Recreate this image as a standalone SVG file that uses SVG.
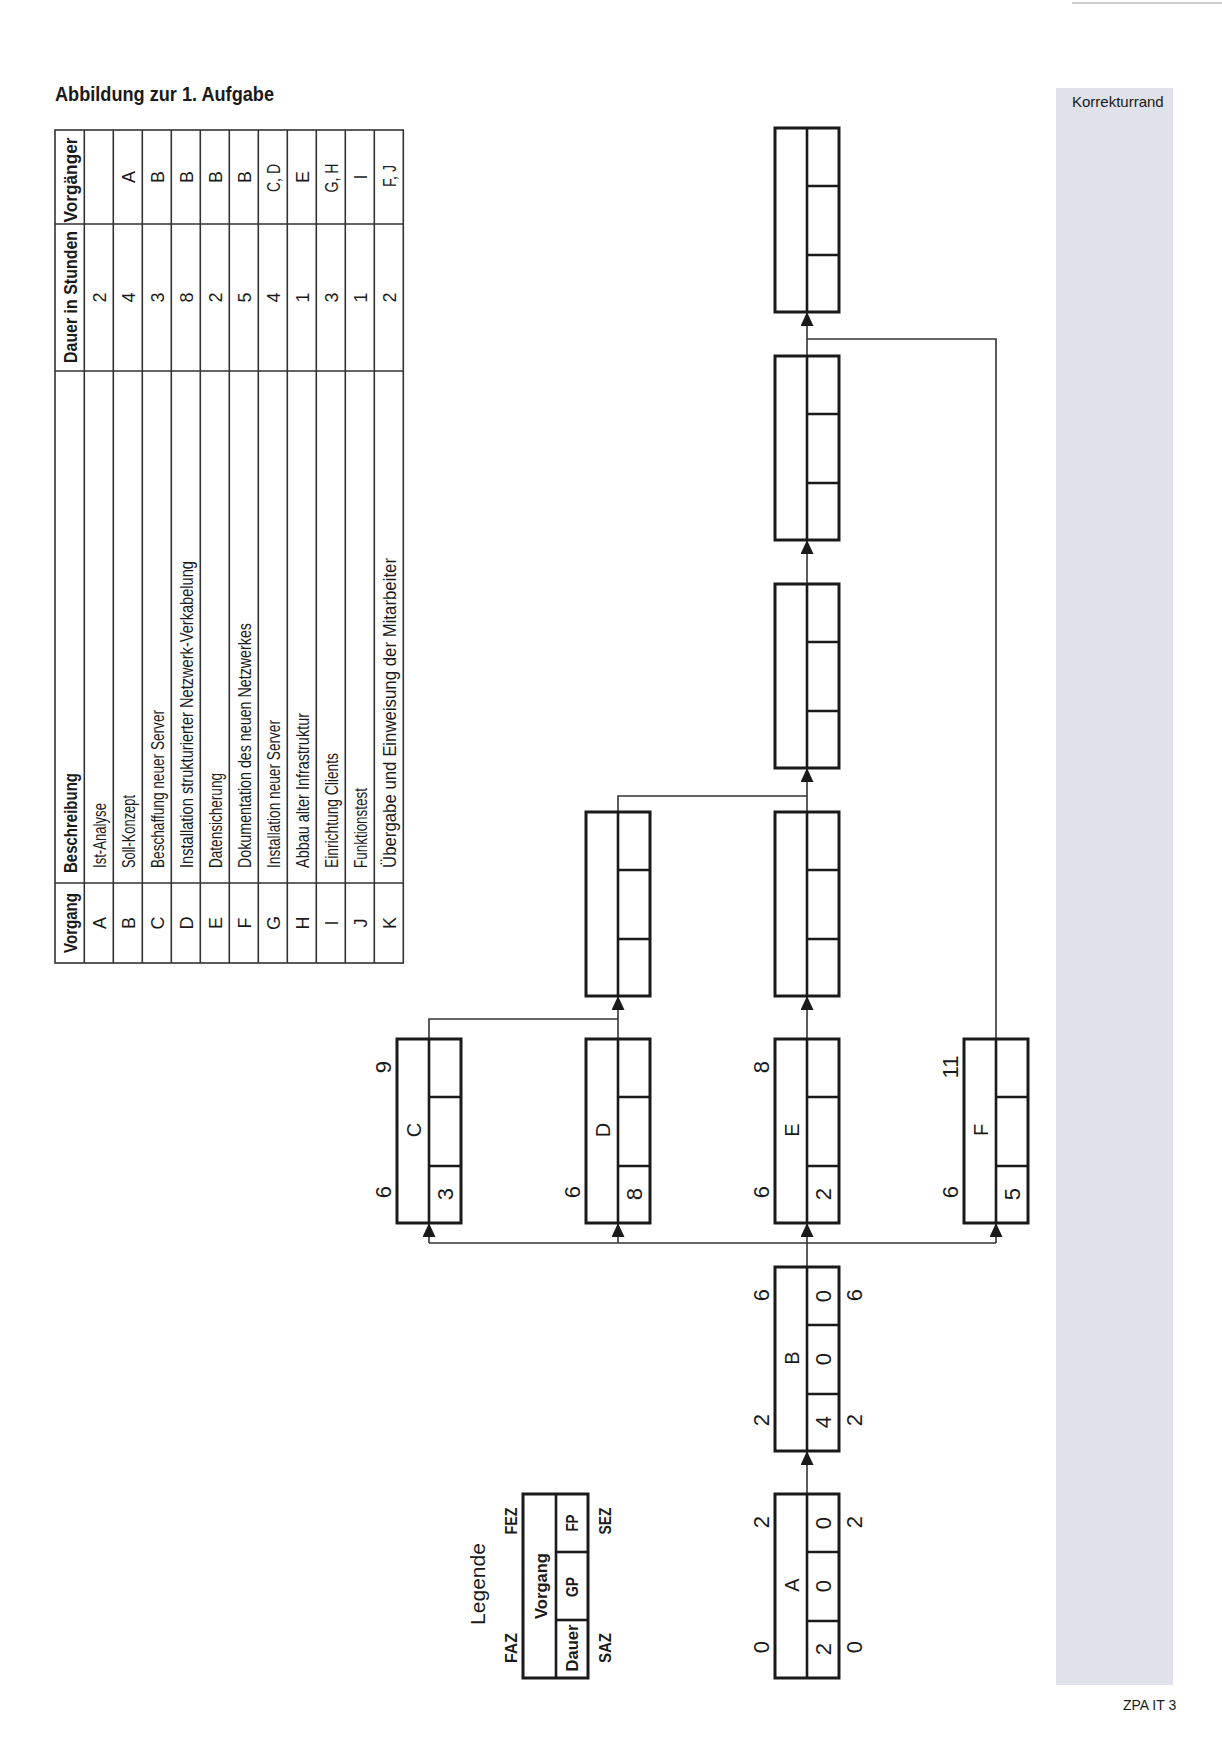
<svg xmlns="http://www.w3.org/2000/svg" width="1222" height="1752" viewBox="0 0 1222 1752">
<style>
text{font-family:"Liberation Sans",Arial,sans-serif;fill:#1a1a1a}
.box{fill:#fff;stroke:#1a1a1a;stroke-width:3}
.div{stroke:#1a1a1a;stroke-width:2.6}
.con{fill:none;stroke:#333;stroke-width:1.6}
.tl{stroke:#333;stroke-width:1.6;fill:none}
.num{font-size:22px;text-anchor:middle}
.let{font-size:20px;text-anchor:middle}
.th{font-size:18px;font-weight:bold}
.td{font-size:18px}
.mid{text-anchor:middle}
.lg{font-size:16px;font-weight:bold;text-anchor:middle}
</style>
<defs>
<marker id="arr" markerUnits="userSpaceOnUse" markerWidth="14" markerHeight="13" viewBox="0 0 14 13" refX="14" refY="6.5" orient="auto">
<path d="M0,0 L14,6.5 L0,13 z" fill="#1a1a1a"/>
</marker>
</defs>
<rect width="1222" height="1752" fill="#fff"/>
<line x1="1072" y1="3" x2="1222" y2="3" stroke="#999" stroke-width="1.2"/>
<rect x="1056" y="88" width="117" height="1597" fill="#dfe2e9"/>
<text x="1072" y="107" font-size="15" fill="#333">Korrekturrand</text>
<text x="1123" y="1710" font-size="14" fill="#333">ZPA IT 3</text>
<text x="55" y="101" font-size="20" font-weight="bold" textLength="219" lengthAdjust="spacingAndGlyphs">Abbildung zur 1. Aufgabe</text>

<g id="table">
<rect x="55" y="130" width="348.3" height="833" class="tl"/>
<path class="tl" d="M84.3,130V963 M113.3,130V963 M142.3,130V963 M171.3,130V963 M200.3,130V963 M229.3,130V963 M258.3,130V963 M287.3,130V963 M316.3,130V963 M345.3,130V963 M374.3,130V963 M55,224H403.3 M55,371H403.3 M55,883H403.3"/>
<text class="th mid" transform="translate(77,923) rotate(-90)" textLength="60" lengthAdjust="spacingAndGlyphs">Vorgang</text>
<text class="th" transform="translate(77,873) rotate(-90)" textLength="100" lengthAdjust="spacingAndGlyphs">Beschreibung</text>
<text class="th mid" transform="translate(77,297) rotate(-90)" textLength="132" lengthAdjust="spacingAndGlyphs">Dauer in Stunden</text>
<text class="th mid" transform="translate(77,180) rotate(-90)" textLength="85" lengthAdjust="spacingAndGlyphs">Vorgänger</text>

<text class="td mid" transform="translate(106.3,923) rotate(-90)">A</text>
<text class="td mid" transform="translate(135.3,923) rotate(-90)">B</text>
<text class="td mid" transform="translate(164.3,923) rotate(-90)">C</text>
<text class="td mid" transform="translate(193.3,923) rotate(-90)">D</text>
<text class="td mid" transform="translate(222.3,923) rotate(-90)">E</text>
<text class="td mid" transform="translate(251.3,923) rotate(-90)">F</text>
<text class="td mid" transform="translate(280.3,923) rotate(-90)">G</text>
<text class="td mid" transform="translate(309.3,923) rotate(-90)">H</text>
<text class="td mid" transform="translate(338.3,923) rotate(-90)">I</text>
<text class="td mid" transform="translate(367.3,923) rotate(-90)">J</text>
<text class="td mid" transform="translate(396.3,923) rotate(-90)">K</text>

<text class="td" transform="translate(106.3,868) rotate(-90)" textLength="65" lengthAdjust="spacingAndGlyphs">Ist-Analyse</text>
<text class="td" transform="translate(135.3,868) rotate(-90)" textLength="73" lengthAdjust="spacingAndGlyphs">Soll-Konzept</text>
<text class="td" transform="translate(164.3,868) rotate(-90)" textLength="158" lengthAdjust="spacingAndGlyphs">Beschaffung neuer Server</text>
<text class="td" transform="translate(193.3,868) rotate(-90)" textLength="307" lengthAdjust="spacingAndGlyphs">Installation strukturierter Netzwerk-Verkabelung</text>
<text class="td" transform="translate(222.3,868) rotate(-90)" textLength="95" lengthAdjust="spacingAndGlyphs">Datensicherung</text>
<text class="td" transform="translate(251.3,868) rotate(-90)" textLength="245" lengthAdjust="spacingAndGlyphs">Dokumentation des neuen Netzwerkes</text>
<text class="td" transform="translate(280.3,868) rotate(-90)" textLength="148" lengthAdjust="spacingAndGlyphs">Installation neuer Server</text>
<text class="td" transform="translate(309.3,868) rotate(-90)" textLength="155" lengthAdjust="spacingAndGlyphs">Abbau alter Infrastruktur</text>
<text class="td" transform="translate(338.3,868) rotate(-90)" textLength="115" lengthAdjust="spacingAndGlyphs">Einrichtung Clients</text>
<text class="td" transform="translate(367.3,868) rotate(-90)" textLength="80" lengthAdjust="spacingAndGlyphs">Funktionstest</text>
<text class="td" transform="translate(396.3,868) rotate(-90)" textLength="310" lengthAdjust="spacingAndGlyphs">Übergabe und Einweisung der Mitarbeiter</text>

<text class="td mid" transform="translate(106.3,297.5) rotate(-90)">2</text>
<text class="td mid" transform="translate(135.3,297.5) rotate(-90)">4</text>
<text class="td mid" transform="translate(164.3,297.5) rotate(-90)">3</text>
<text class="td mid" transform="translate(193.3,297.5) rotate(-90)">8</text>
<text class="td mid" transform="translate(222.3,297.5) rotate(-90)">2</text>
<text class="td mid" transform="translate(251.3,297.5) rotate(-90)">5</text>
<text class="td mid" transform="translate(280.3,297.5) rotate(-90)">4</text>
<text class="td mid" transform="translate(309.3,297.5) rotate(-90)">1</text>
<text class="td mid" transform="translate(338.3,297.5) rotate(-90)">3</text>
<text class="td mid" transform="translate(367.3,297.5) rotate(-90)">1</text>
<text class="td mid" transform="translate(396.3,297.5) rotate(-90)">2</text>

<text class="td mid" transform="translate(135.3,177) rotate(-90)">A</text>
<text class="td mid" transform="translate(164.3,177) rotate(-90)">B</text>
<text class="td mid" transform="translate(193.3,177) rotate(-90)">B</text>
<text class="td mid" transform="translate(222.3,177) rotate(-90)">B</text>
<text class="td mid" transform="translate(251.3,177) rotate(-90)">B</text>
<text class="td mid" transform="translate(280.3,178) rotate(-90)" textLength="28" lengthAdjust="spacingAndGlyphs">C, D</text>
<text class="td mid" transform="translate(309.3,177) rotate(-90)">E</text>
<text class="td mid" transform="translate(338.3,178) rotate(-90)" textLength="29" lengthAdjust="spacingAndGlyphs">G, H</text>
<text class="td mid" transform="translate(367.3,177) rotate(-90)">I</text>
<text class="td mid" transform="translate(396.3,176) rotate(-90)" textLength="22" lengthAdjust="spacingAndGlyphs">F, J</text>
</g>

<g id="connectors">
<path class="con" d="M807,1494V1451" marker-end="url(#arr)"/>
<path class="con" d="M807,1267V1243 M429,1243H996"/>
<path class="con" d="M429,1243V1223" marker-end="url(#arr)"/>
<path class="con" d="M618,1243V1223" marker-end="url(#arr)"/>
<path class="con" d="M807,1243V1223" marker-end="url(#arr)"/>
<path class="con" d="M996,1243V1223" marker-end="url(#arr)"/>
<path class="con" d="M429,1039V1019H618"/>
<path class="con" d="M618,1039V996" marker-end="url(#arr)"/>
<path class="con" d="M807,1039V996" marker-end="url(#arr)"/>
<path class="con" d="M618,812V796H807"/>
<path class="con" d="M807,812V768" marker-end="url(#arr)"/>
<path class="con" d="M807,584V540" marker-end="url(#arr)"/>
<path class="con" d="M996,1039V339H807"/>
<path class="con" d="M807,356V312" marker-end="url(#arr)"/>
</g>

<g id="legend">
<text transform="translate(485,1625) rotate(-90)" font-size="21" textLength="82" lengthAdjust="spacingAndGlyphs">Legende</text>
<rect class="box" x="523" y="1494" width="65" height="184"/>
<line class="div" x1="556" y1="1494" x2="556" y2="1678"/>
<line class="div" x1="556" y1="1552" x2="588" y2="1552"/>
<line class="div" x1="556" y1="1620" x2="588" y2="1620"/>
<text class="lg" transform="translate(517,1648) rotate(-90)" textLength="30" lengthAdjust="spacingAndGlyphs">FAZ</text>
<text class="lg" transform="translate(517,1521) rotate(-90)" textLength="27" lengthAdjust="spacingAndGlyphs">FEZ</text>
<text class="lg" transform="translate(547,1586) rotate(-90)" textLength="66" lengthAdjust="spacingAndGlyphs">Vorgang</text>
<text class="lg" transform="translate(578,1648) rotate(-90)" textLength="47" lengthAdjust="spacingAndGlyphs">Dauer</text>
<text class="lg" transform="translate(578,1587) rotate(-90)" textLength="20" lengthAdjust="spacingAndGlyphs">GP</text>
<text class="lg" transform="translate(578,1523) rotate(-90)" textLength="17" lengthAdjust="spacingAndGlyphs">FP</text>
<text class="lg" transform="translate(611,1648) rotate(-90)" textLength="30" lengthAdjust="spacingAndGlyphs">SAZ</text>
<text class="lg" transform="translate(611,1521) rotate(-90)" textLength="27" lengthAdjust="spacingAndGlyphs">SEZ</text>
</g>

<g id="node-A">
<rect class="box" x="775" y="1494" width="64" height="184"/>
<path class="div" d="M807,1494V1678 M807,1552H839 M807,1621H839"/>
<text class="num" transform="translate(768.5,1647) rotate(-90)">0</text>
<text class="num" transform="translate(768.5,1522) rotate(-90)">2</text>
<text class="let" transform="translate(799,1585) rotate(-90)">A</text>
<text class="num" transform="translate(831,1649) rotate(-90)">2</text>
<text class="num" transform="translate(831,1586) rotate(-90)">0</text>
<text class="num" transform="translate(831,1523) rotate(-90)">0</text>
<text class="num" transform="translate(861.5,1647) rotate(-90)">0</text>
<text class="num" transform="translate(861.5,1522) rotate(-90)">2</text>
</g>

<g id="node-B">
<rect class="box" x="775" y="1267" width="64" height="184"/>
<path class="div" d="M807,1267V1451 M807,1325H839 M807,1394H839"/>
<text class="num" transform="translate(768.5,1420) rotate(-90)">2</text>
<text class="num" transform="translate(768.5,1295) rotate(-90)">6</text>
<text class="let" transform="translate(799,1358) rotate(-90)">B</text>
<text class="num" transform="translate(831,1422) rotate(-90)">4</text>
<text class="num" transform="translate(831,1359) rotate(-90)">0</text>
<text class="num" transform="translate(831,1296) rotate(-90)">0</text>
<text class="num" transform="translate(861.5,1420) rotate(-90)">2</text>
<text class="num" transform="translate(861.5,1295) rotate(-90)">6</text>
</g>

<g id="node-C">
<rect class="box" x="397" y="1039" width="64" height="184"/>
<path class="div" d="M429,1039V1223 M429,1097H461 M429,1166H461"/>
<text class="num" transform="translate(391,1192) rotate(-90)">6</text>
<text class="num" transform="translate(391,1067) rotate(-90)">9</text>
<text class="let" transform="translate(421,1130) rotate(-90)">C</text>
<text class="num" transform="translate(453,1194) rotate(-90)">3</text>
</g>

<g id="node-D">
<rect class="box" x="586" y="1039" width="64" height="184"/>
<path class="div" d="M618,1039V1223 M618,1097H650 M618,1166H650"/>
<text class="num" transform="translate(580,1192) rotate(-90)">6</text>
<text class="let" transform="translate(610,1130) rotate(-90)">D</text>
<text class="num" transform="translate(642,1194) rotate(-90)">8</text>
</g>

<g id="node-E">
<rect class="box" x="775" y="1039" width="64" height="184"/>
<path class="div" d="M807,1039V1223 M807,1097H839 M807,1166H839"/>
<text class="num" transform="translate(769,1192) rotate(-90)">6</text>
<text class="num" transform="translate(769,1067) rotate(-90)">8</text>
<text class="let" transform="translate(799,1130) rotate(-90)">E</text>
<text class="num" transform="translate(831,1194) rotate(-90)">2</text>
</g>

<g id="node-F">
<rect class="box" x="964" y="1039" width="64" height="184"/>
<path class="div" d="M996,1039V1223 M996,1097H1028 M996,1166H1028"/>
<text class="num" transform="translate(958,1192) rotate(-90)">6</text>
<text class="num" transform="translate(958,1067) rotate(-90)">11</text>
<text class="let" transform="translate(988,1130) rotate(-90)">F</text>
<text class="num" transform="translate(1020,1194) rotate(-90)">5</text>
</g>

<g id="node-G">
<rect class="box" x="586" y="812" width="64" height="184"/>
<path class="div" d="M618,812V996 M618,870H650 M618,939H650"/>
</g>

<g id="node-H">
<rect class="box" x="775" y="812" width="64" height="184"/>
<path class="div" d="M807,812V996 M807,870H839 M807,939H839"/>
</g>

<g id="node-I">
<rect class="box" x="775" y="584" width="64" height="184"/>
<path class="div" d="M807,584V768 M807,642H839 M807,711H839"/>
</g>

<g id="node-J">
<rect class="box" x="775" y="356" width="64" height="184"/>
<path class="div" d="M807,356V540 M807,414H839 M807,483H839"/>
</g>

<g id="node-K">
<rect class="box" x="775" y="128" width="64" height="184"/>
<path class="div" d="M807,128V312 M807,186H839 M807,255H839"/>
</g>
</svg>
